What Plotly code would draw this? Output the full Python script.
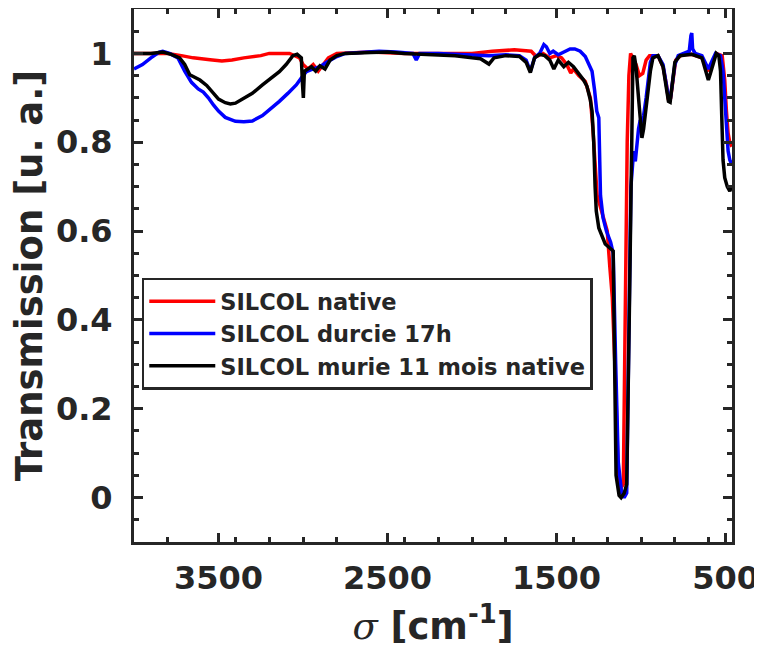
import plotly.graph_objects as go

# ---------------- data ----------------
red_sigma = [4000, 3800, 3720, 3650, 3550, 3480, 3420, 3350, 3250, 3200, 3080, 3020, 3000, 2970, 2940,
             2910, 2880, 2850, 2800, 2600, 2400, 2200, 2000, 1880, 1750, 1650, 1620, 1580, 1540, 1500,
             1470, 1440, 1416, 1400, 1369, 1330, 1300, 1285, 1272, 1260, 1230, 1200, 1185, 1180, 1170,
             1150, 1135, 1122, 1105, 1097, 1090, 1082, 1072, 1062, 1050, 1030, 1010, 990, 970, 950,
             900, 870, 850, 838, 825, 810, 795, 760, 700, 640, 610, 600, 585, 555, 520, 505, 495, 485,
             475, 463]
red_T = [1.0, 1.0, 0.995, 0.99, 0.986, 0.983, 0.985, 0.99, 0.995, 1.0, 1.0, 0.99, 0.975, 0.965, 0.975,
         0.96, 0.975, 0.99, 1.0, 1.003, 1.0, 1.0, 1.0, 1.005, 1.008, 1.005, 0.993, 1.0, 0.99, 0.995,
         0.99, 0.975, 0.956, 0.965, 0.95, 0.937, 0.9, 0.83, 0.757, 0.68, 0.64, 0.6, 0.52, 0.49, 0.45,
         0.25, 0.05, 0.02, 0.03, 0.3, 0.55, 0.8, 0.95, 1.0, 0.99, 0.975, 0.95, 0.955, 0.985, 0.995,
         0.995, 0.97, 0.93, 0.895, 0.9, 0.94, 0.985, 0.997, 0.998, 0.99, 0.965, 0.96, 0.975, 1.0, 0.995,
         0.94, 0.87, 0.82, 0.8, 0.79]

blue_sigma = [4000, 3950, 3900, 3850, 3830, 3790, 3740, 3700, 3660, 3620, 3590, 3560, 3530, 3500, 3460,
              3430, 3400, 3350, 3300, 3240, 3190, 3140, 3090, 3040, 3000, 2980, 2940, 2900, 2860, 2800,
              2750, 2650, 2550, 2450, 2350, 2330, 2310, 2200, 2100, 2000, 1900, 1800, 1720, 1680, 1655,
              1630, 1600, 1575, 1560, 1540, 1520, 1490, 1460, 1420, 1392, 1360, 1330, 1310, 1290, 1275,
              1262, 1250, 1245, 1240, 1225, 1205, 1180, 1165, 1150, 1135, 1115, 1100, 1085, 1075, 1060,
              1044, 1034, 1015, 1005, 995, 985, 970, 955, 945, 930, 900, 870, 850, 838, 828, 815, 800,
              780, 740, 715, 705, 700, 695, 680, 640, 615, 602, 590, 560, 530, 515, 505, 495, 485, 475, 463]
blue_T = [0.965, 0.975, 0.99, 1.003, 1.005, 1.0, 0.99, 0.96, 0.935, 0.92, 0.913, 0.9, 0.884, 0.87, 0.856,
          0.851, 0.847, 0.846, 0.848, 0.86, 0.875, 0.892, 0.91, 0.929, 0.95, 0.959, 0.965, 0.97, 0.98, 0.993,
          1.0, 1.003, 1.005, 1.003, 1.0, 0.985, 1.0, 1.0, 0.998, 0.997, 0.995, 0.997, 0.995, 0.985, 0.96,
          0.99, 1.0, 1.02, 1.015, 1.0, 1.005, 0.997, 1.003, 1.01, 1.01, 1.005, 0.993, 0.975, 0.96, 0.917,
          0.87, 0.855, 0.757, 0.68, 0.63, 0.6, 0.575, 0.55, 0.3, 0.08, 0.01, 0.0, 0.01, 0.3, 0.7,
          0.78, 0.757, 0.83, 0.85, 0.845, 0.86, 0.9, 0.95, 0.98, 0.995, 0.995, 0.975, 0.93, 0.9, 0.895, 0.93, 0.975,
          0.995, 1.0, 1.005, 1.04, 1.046, 1.01, 1.0, 0.995, 0.975, 0.965, 0.975, 1.0, 0.995, 0.96, 0.9, 0.84,
          0.78, 0.76, 0.75]

black_sigma = [4000, 3900, 3830, 3780, 3730, 3700, 3670, 3640, 3610, 3570, 3530, 3500, 3460, 3430, 3400,
               3360, 3300, 3240, 3180, 3140, 3100, 3060, 3035, 3010, 3003, 2998, 2992, 2975, 2950, 2925,
               2900, 2870, 2840, 2800, 2750, 2600, 2500, 2400, 2300, 2200, 2100, 2000, 1950, 1900, 1870,
               1800, 1720, 1680, 1655, 1630, 1600, 1570, 1540, 1516, 1490, 1457, 1430, 1400, 1369, 1340,
               1320, 1300, 1290, 1280, 1272, 1265, 1250, 1212, 1165, 1155, 1148, 1130, 1118, 1100, 1085,
               1070, 1058, 1048, 1040, 1030, 1015, 1000, 995, 985, 965, 945, 930, 900, 870, 850, 838, 828,
               815, 800, 770, 700, 640, 615, 602, 590, 555, 540, 530, 522, 515, 505, 490, 475, 465]
black_T = [1.0, 1.0, 1.003, 0.998, 0.99, 0.975, 0.952, 0.945, 0.94, 0.928, 0.91, 0.897, 0.889, 0.886, 0.888,
           0.896, 0.91, 0.929, 0.947, 0.959, 0.975, 0.995, 0.998, 0.99, 0.93, 0.9, 0.96, 0.965, 0.97, 0.96,
           0.972, 0.965, 0.985, 0.995, 1.0, 1.002, 1.003, 1.0, 0.998, 0.997, 0.995, 0.99, 0.988, 0.976, 0.99,
           0.995, 0.993, 0.98, 0.957, 0.99, 0.998, 0.995, 0.985, 0.965, 0.985, 0.97, 0.98, 0.97, 0.956, 0.94,
           0.926, 0.895, 0.87, 0.8, 0.7, 0.645, 0.607, 0.571, 0.555, 0.3, 0.05, 0.005, 0.0, 0.01, 0.03,
           0.4, 0.78, 0.99, 0.995, 0.97, 0.9, 0.82, 0.81, 0.83, 0.9, 0.96, 0.99, 0.995, 0.97, 0.92, 0.892, 0.89,
           0.93, 0.98, 0.995, 0.998, 0.99, 0.955, 0.94, 0.955, 1.0, 0.995, 0.96, 0.85, 0.76, 0.72, 0.70, 0.69, 0.70]

series_names = ["SILCOL native", "SILCOL durcie 17h", "SILCOL murie 11 mois native"]
series_colors = ["#ff0000", "#0000ff", "#000000"]

x_tickvals = [3500, 2500, 1500, 500]
x_minor_vals = [3800, 3400, 3200, 3000, 2800, 2400, 2200, 2000, 1800, 1400, 1200, 1000, 800, 600]
y_tickvals = [0, 0.2, 0.4, 0.6, 0.8, 1]
y_ticktext = ["0", "0.2", "0.4", "0.6", "0.8", "1"]

# ---------------- figure ----------------
AX = "#262626"
FONT = "DejaVu Sans"

fig = go.Figure()
for xs, ys, name, col in zip([red_sigma, blue_sigma, black_sigma],
                             [red_T, blue_T, black_T], series_names, series_colors):
    fig.add_trace(go.Scatter(x=xs, y=ys, mode="lines", name=name,
                             line=dict(color=col, width=3.5)))

axis_common = dict(showline=True, linewidth=3, linecolor=AX, mirror="allticks",
                   ticks="inside", tickwidth=2.5, tickcolor=AX, ticklen=9,
                   showgrid=False, zeroline=False, automargin=False,
                   tickfont=dict(family=FONT, size=32, color=AX, weight="bold"))

# the page body adds an 8 px offset, so the margins are set to compensate
fig.update_layout(
    width=762, height=654,
    margin=dict(l=126, r=38, t=1, b=120, autoexpand=False),
    paper_bgcolor="white", plot_bgcolor="white",
    font=dict(family=FONT, color=AX),
    xaxis=dict(range=[4000, 462], tickvals=x_tickvals,
               minor=dict(tickmode="array", tickvals=x_minor_vals, ticks="inside",
                          ticklen=5, tickwidth=2.5, tickcolor=AX),
               ticklabelstandoff=6,
               title=dict(text="<span style=\"font-family:'DejaVu Serif';font-style:italic;font-weight:normal\">σ</span> [cm<sup>-1</sup>]",
                          font=dict(family=FONT, size=37, color=AX, weight="bold"), standoff=17),
               **axis_common),
    yaxis=dict(range=[-0.1, 1.1], tickvals=y_tickvals, ticktext=y_ticktext,
               minor=dict(dtick=0.05, tick0=0, ticks="inside", ticklen=5, tickwidth=2.5, tickcolor=AX),
               ticklabelstandoff=12,
               title=dict(text="Transmission [u. a.]",
                          font=dict(family=FONT, size=37, color=AX, weight="bold"), standoff=9),
               **axis_common),
    legend=dict(x=0.013, y=0.496, xanchor="left", yanchor="top",
                bgcolor="white", bordercolor=AX, borderwidth=2.5,
                font=dict(family=FONT, size=22.5, color=AX, weight="bold"),
                tracegroupgap=0, itemwidth=66),
    showlegend=True,
)

fig.write_html("out.html")
